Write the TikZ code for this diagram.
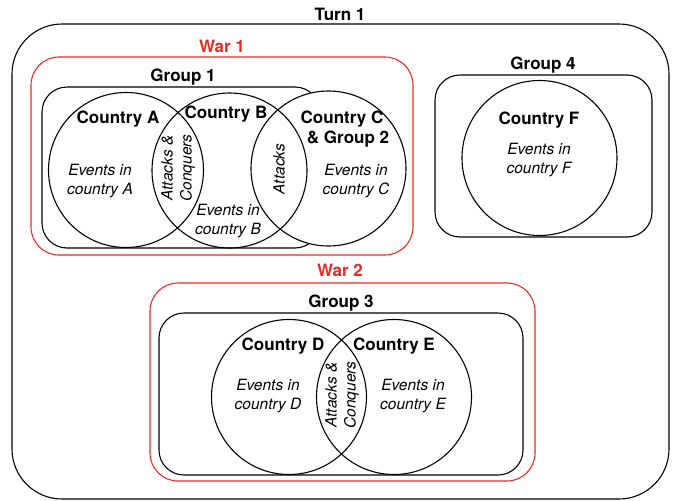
\documentclass[tikz,border=0pt]{standalone}
\usepackage{fontspec}
\setmainfont{TeX Gyre Heros}
\definecolor{warred}{RGB}{230,45,35}

\begin{document}
\begin{tikzpicture}[x=1pt,y=-1pt]

    \tikzset{
      box/.style={
        draw,
        line width=1.1pt,
        rounded corners=25pt,
      },
      warbox/.style={
        box,
        draw=warred,
        rounded corners=28pt,
      },
      country/.style={
        draw,
        circle,
        line width=1.1pt,
        minimum size=155pt,
        inner sep=0pt,
      },
      title/.style={font=\fontsize{17}{20}\selectfont\bfseries, align=center, inner sep=0pt},
      events/.style={font=\fontsize{15.5}{19}\selectfont\itshape, align=center, inner sep=0pt},
    }
    \useasboundingbox (0,0) rectangle (673,501);

    \draw[box, rounded corners=50pt] (12,24) rectangle (669,499);
    \node[title] (turn) at (340,14) {Turn 1};

    \draw[warbox] (31,57) rectangle (413,255);
    \node[title, text=warred] (war1) at (222,46) {War 1};
    \draw[box] (42,87) rectangle (320,248);
    \node[title] (group1) at (183,77) {Group 1};

    \node[country, fill=white] (C) at (328.5,168.5) {};
    \node[country] (A) at (126,170) {};
    \node[country] (B) at (229.5,170.5) {};
    \node[title] (nameA) at (118,119) {Country A};
    \node[title] (nameB) at (226,114) {Country B};
    \node[title] (nameC) at (342,129) {Country C\\\hspace*{12pt}\& Group 2};
    \node[events] (evA) at (100,181) {Events in\\country A};
    \node[events] (evB) at (228,221) {Events in\\country B};
    \node[events] (evC) at (356,181) {Events in\\country C};
    \node[events, rotate=90] (ab) at (178,168) {Attacks \&\\Conquers};
    \node[events, rotate=90] (bc) at (279,169) {Attacks};

    \draw[box] (435,75) rectangle (652,237);
    \node[title] (group4) at (543,65) {Group 4};
    \node[country] (F) at (539.5,158) {};
    \node[title] (nameF) at (539,120) {Country F};
    \node[events] (evF) at (539,160) {Events in\\country F};

    \draw[warbox] (150,283) rectangle (535,481);
    \node[title, text=warred] (war2) at (340,270) {War 2};
    \draw[box] (159,313) rectangle (523,475);
    \node[title] (group3) at (341,303) {Group 3};

    \node[country] (D) at (289,397) {};
    \node[country] (E) at (394,397) {};
    \node[title] (nameD) at (283,346) {Country D};
    \node[title] (nameE) at (394,346) {Country E};
    \node[events] (evD) at (268,396) {Events in\\country D};
    \node[events] (evE) at (413,396) {Events in\\country E};
    \node[events, rotate=90] (de) at (342,395) {Attacks \&\\Conquers};

\end{tikzpicture}
\end{document}
